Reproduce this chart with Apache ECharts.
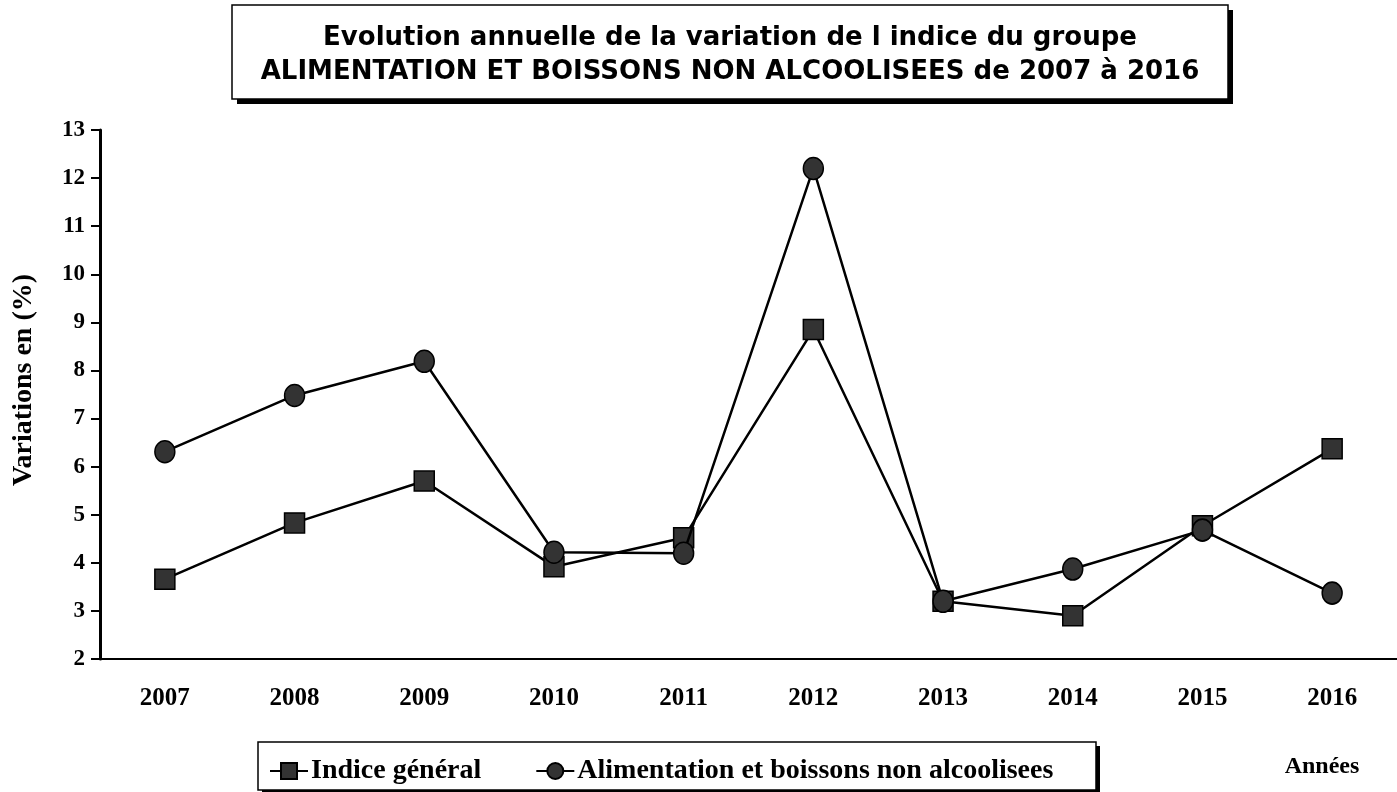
<!DOCTYPE html>
<html>
<head>
<meta charset="utf-8">
<script src="https://cdn.jsdelivr.net/npm/echarts@6/dist/echarts.min.js"></script>
<style>
  html, body { margin: 0; padding: 0; background: #fff; }
  #chart { width: 1397px; height: 792px; }
</style>
</head>
<body>
<div id="chart"></div>
<script>
// données
var years = ['2007', '2008', '2009', '2010', '2011', '2012', '2013', '2014', '2015', '2016'];
var indiceGeneral = [3.66, 4.83, 5.70, 3.92, 4.52, 8.85, 3.20, 2.90, 4.77, 6.37];
var alimentation = [6.31, 7.48, 8.19, 4.22, 4.20, 12.20, 3.20, 3.87, 4.68, 3.37];
var titleLines = [
    'Evolution annuelle de la variation de l indice du groupe',
    'ALIMENTATION ET BOISSONS NON ALCOOLISEES de 2007 à 2016'
];

var serif = '"Liberation Serif", "Times New Roman", serif';
var sans = '"DejaVu Sans", Arial, sans-serif';

var chart = echarts.init(document.getElementById('chart'), null, {renderer: 'canvas'});

var option = {
    animation: false,
    backgroundColor: '#fff',
    graphic: [
        // cadre du titre avec ombre
        {
            type: 'rect',
            shape: {x: 237, y: 10, width: 996, height: 94},
            style: {fill: '#000'},
            z: 1
        },
        {
            type: 'rect',
            shape: {x: 232, y: 5, width: 996, height: 94},
            style: {fill: '#fff', stroke: '#000', lineWidth: 1.5},
            z: 2
        },
        {
            type: 'text',
            x: 730, y: 38,
            style: {
                text: titleLines[0],
                font: 'bold 26px ' + sans,
                fill: '#000',
                align: 'center',
                verticalAlign: 'middle'
            },
            z: 3
        },
        {
            type: 'text',
            x: 730, y: 72,
            style: {
                text: titleLines[1],
                font: 'bold 26px ' + sans,
                fill: '#000',
                align: 'center',
                verticalAlign: 'middle'
            },
            z: 3
        },
        // titre de l'axe vertical
        {
            type: 'text',
            x: 24, y: 380,
            rotation: Math.PI / 2,
            style: {
                text: 'Variations en (%)',
                font: 'bold 28px ' + serif,
                fill: '#000',
                align: 'center',
                verticalAlign: 'middle'
            },
            z: 3
        },
        // cadre de la légende
        {
            type: 'rect',
            shape: {x: 262, y: 746, width: 838, height: 48},
            style: {fill: '#000'},
            z: 1
        },
        {
            type: 'rect',
            shape: {x: 258, y: 742, width: 838, height: 48},
            style: {fill: '#fff', stroke: '#000', lineWidth: 1.5},
            z: 2
        },
        {
            type: 'text',
            x: 1322, y: 767,
            style: {
                text: 'Années',
                font: 'bold 24px ' + serif,
                fill: '#000',
                align: 'center',
                verticalAlign: 'middle'
            },
            z: 3
        }
    ],
    legend: {
        left: 264,
        top: 752,
        itemWidth: 38,
        itemHeight: 20,
        itemGap: 54,
        textStyle: {
            fontFamily: serif,
            fontWeight: 'bold',
            fontSize: 28,
            color: '#000',
            padding: [0, 0, 0, -2]
        },
        z: 5
    },
    grid: {
        left: 100,
        right: 0,
        top: 130,
        bottom: 133
    },
    xAxis: {
        type: 'category',
        data: years,
        boundaryGap: true,
        axisLine: {lineStyle: {color: '#000', width: 2}},
        axisTick: {length: 8, lineStyle: {color: '#000', width: 2}},
        axisLabel: {
            margin: 27,
            color: '#000',
            fontFamily: serif,
            fontWeight: 'bold',
            fontSize: 25
        }
    },
    yAxis: {
        type: 'value',
        min: 2,
        max: 13,
        interval: 1,
        splitLine: {show: false},
        axisLine: {show: true, lineStyle: {color: '#000', width: 3}},
        axisTick: {show: true, length: 9, lineStyle: {color: '#000', width: 2}},
        axisLabel: {
            margin: 15,
            color: '#000',
            fontFamily: serif,
            fontWeight: 'bold',
            fontSize: 23
        }
    },
    series: [
        {
            name: 'Indice général',
            type: 'line',
            data: indiceGeneral,
            symbol: 'rect',
            symbolSize: 20,
            showAllSymbol: true,
            lineStyle: {color: '#000', width: 2.5},
            itemStyle: {color: '#333', borderColor: '#000', borderWidth: 1.5},
            z: 3
        },
        {
            name: 'Alimentation et boissons non alcoolisees',
            type: 'line',
            data: alimentation,
            symbol: 'circle',
            symbolSize: [20, 22],
            showAllSymbol: true,
            lineStyle: {color: '#000', width: 2.5},
            itemStyle: {color: '#333', borderColor: '#000', borderWidth: 1.5},
            z: 4
        }
    ]
};

chart.setOption(option);
</script>
</body>
</html>
